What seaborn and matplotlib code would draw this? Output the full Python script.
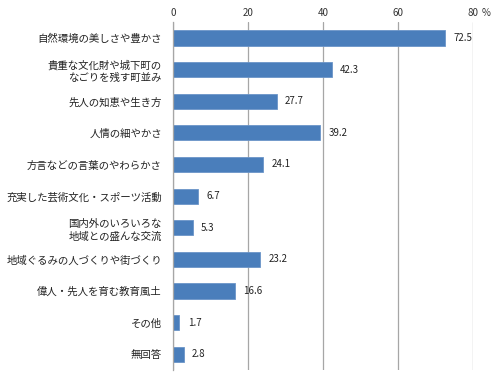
import matplotlib
matplotlib.use("Agg")
import matplotlib.pyplot as plt
import numpy as np
import pandas as pd
import seaborn as sns

categories = [
    "自然環境の美しさや豊かさ",
    "貴重な文化財や城下町の\nなごりを残す町並み",
    "先人の知恵や生き方",
    "人情の細やかさ",
    "方言などの言葉のやわらかさ",
    "充実した芸術文化・スポーツ活動",
    "国内外のいろいろな\n地域との盛んな交流",
    "地域ぐるみの人づくりや街づくり",
    "偉人・先人を育む教育風土",
    "その他",
    "無回答",
]
values = [72.5, 42.3, 27.7, 39.2, 24.1, 6.7, 5.3, 23.2, 16.6, 1.7, 2.8]
xticks = [0, 20, 40, 60, 80]

df = pd.DataFrame({"item": categories, "pct": values})

sns.set_style("white")
plt.rcParams["font.family"] = ["Noto Sans CJK JP", "DejaVu Sans"]

fig = plt.figure(figsize=(5, 3.75), dpi=100)
ax = fig.add_axes([0.346, 0.013, 0.6, 0.928])

sns.barplot(data=df, x="pct", y="item", orient="h", color="#4a7ebb",
            saturation=1, width=0.48, edgecolor="#6b95c8", linewidth=0.6, ax=ax)

# value labels to the right of each bar
for i, v in enumerate(values):
    ax.text(v + 2.2, i, f"{v}", va="center", ha="left", fontsize=7, color="#222222")

ax.set_xlim(0, 80)
ax.set_ylim(len(categories) - 0.5, -0.5)
ax.set_xticks(xticks)
ax.set_xticklabels([str(t) for t in xticks], fontsize=7, color="#333333")
ax.xaxis.tick_top()
ax.tick_params(axis="x", length=0, pad=3)
ax.xaxis.grid(True, color="#a6a6a6", linewidth=0.9)
ax.set_axisbelow(True)

# unit mark next to the last tick label
ax.annotate("%", xy=(80, 1), xycoords=("data", "axes fraction"),
            xytext=(6, 3), textcoords="offset points",
            fontsize=7, color="#333333", ha="left", va="bottom")

ax.set_yticks(range(len(categories)))
ax.set_yticklabels(categories, fontsize=7.5, color="#222222", linespacing=1.3)
ax.tick_params(axis="y", length=0, pad=8)
ax.set_yticks(np.arange(-0.5, len(categories), 1.0), minor=True)
ax.tick_params(axis="y", which="minor", length=4, color="#a6a6a6", width=0.9)

ax.set_xlabel("")
ax.set_ylabel("")
for s in ["top", "right", "bottom"]:
    ax.spines[s].set_visible(False)
ax.spines["left"].set_color("#a6a6a6")
ax.spines["left"].set_linewidth(0.9)

fig.savefig("out.png", dpi=100)
